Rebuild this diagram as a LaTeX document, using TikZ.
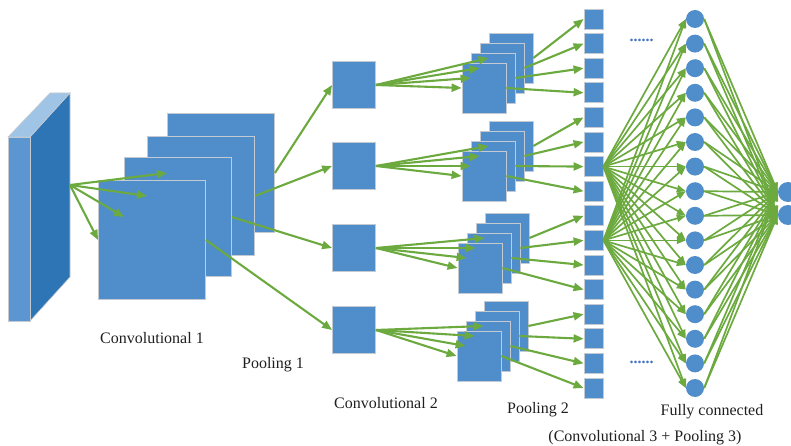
\documentclass[tikz,border=0pt]{standalone}
\usepackage{fontspec}
\setmainfont{Liberation Serif}
\usetikzlibrary{arrows.meta,positioning}
\definecolor{mapblue}{RGB}{80,142,203}
\definecolor{mapedge}{RGB}{196,202,210}
\definecolor{slabfront}{RGB}{92,150,208}
\definecolor{slabside}{RGB}{46,117,182}
\definecolor{slabtop}{RGB}{160,196,230}
\definecolor{linkgreen}{RGB}{108,170,64}
\definecolor{dotblue}{RGB}{68,114,196}

\begin{document}
\begin{tikzpicture}[x=1pt,y=-1pt,>={Triangle[length=10pt,width=8pt]},
                    every node/.style={font=\fontsize{16}{19}\selectfont}]
  \tikzstyle{fmap}=[draw=mapedge,fill=mapblue,line width=0.8pt,inner sep=0pt]
  \tikzstyle{unit}=[circle,fill=mapblue,inner sep=0pt,minimum size=18pt]
  \tikzstyle{link}=[->,draw=linkgreen,line width=2.1pt]
  \tikzstyle{fclink}=[->,draw=linkgreen,line width=1.7pt,>={Triangle[length=9pt,width=7pt]}]
  \tikzstyle{caption}=[text=black!88]

  \useasboundingbox (0,0) rectangle (791,446);

  % input volume
  \filldraw[fill=slabside,draw=mapedge,line width=0.6pt] (30,137) -- (70,93) -- (70,277) -- (30,321) -- cycle;
  \filldraw[fill=slabtop,draw=mapedge,line width=0.6pt] (8,137) -- (30,137) -- (70,93) -- (50,93) -- cycle;
  \filldraw[fill=slabfront,draw=mapedge,line width=0.6pt] (8,137) rectangle (30,321);
  \coordinate (src) at (70,185);

  % convolutional 1
  \node[fmap,minimum width=107pt,minimum height=119pt] (c1d) at (221,173) {};
  \node[fmap,minimum width=107pt,minimum height=119pt] (c1c) at (201,196) {};
  \node[fmap,minimum width=107pt,minimum height=119pt] (c1b) at (178,217) {};
  \node[fmap,minimum width=107pt,minimum height=119pt] (c1a) at (152,240) {};

  % pooling 1
  \node[fmap,minimum width=43pt,minimum height=47pt] (p1) at (354,85) {};
  \node[fmap,minimum width=43pt,minimum height=47pt] (p2) at (354,166) {};
  \node[fmap,minimum width=43pt,minimum height=47pt] (p3) at (354,248) {};
  \node[fmap,minimum width=43pt,minimum height=47pt] (p4) at (354,330) {};

  % convolutional 2
  \foreach \k/\x/\y in {1/484/88,2/484/176,3/480/268,4/479/356}
    \foreach \j in {3,2,1,0}
      \node[fmap,minimum width=44pt,minimum height=50pt] (s\k\j) at (\x+9*\j,\y-10*\j) {};

  % pooling 2 column and fully connected layer
  \foreach \i in {0,...,15} {
    \node[fmap,minimum width=19pt,minimum height=20pt] (q\i) at (593.5,19+24.6*\i) {};
    \node[unit] (f\i) at (695,19+24.6*\i) {};
  }
  \node[unit,minimum size=20pt] (o1) at (788,192) {};
  \node[unit,minimum size=20pt] (o2) at (788,215) {};

  % connections
  \foreach \n in {a,b,c,d}
    \draw[link] (src) -- (c1\n.west);
  \draw[link] (c1d.east) -- (p1.west);
  \draw[link] (c1c.east) -- (p2.west);
  \draw[link] (c1b.east) -- (p3.west);
  \draw[link] (c1a.east) -- (p4.west);
  \foreach \k in {1,...,4}
    \foreach \j in {0,...,3} {
      \pgfmathtruncatemacro\t{4*(\k-1)+3-\j}
      \draw[link] (p\k.east) -- (s\k\j.west);
      \draw[link] (s\k\j.east) -- (q\t.west);
    }
  \foreach \i in {0,...,15} {
    \draw[fclink] (q6.east) -- (f\i.west);
    \draw[fclink] (q9.east) -- (f\i.west);
    \draw[fclink] (f\i.east) -- (o1.west);
    \draw[fclink] (f\i.east) -- (o2.west);
  }

  % labels
  \node[text=dotblue,anchor=base west,font=\fontsize{16}{19}\selectfont\bfseries] (d1) at (626,42) {......};
  \node[text=dotblue,anchor=base west,font=\fontsize{16}{19}\selectfont\bfseries] (d2) at (626,363) {......};
  \node[caption] (l1) at (152,338) {Convolutional 1};
  \node[caption] (l2) at (273,365) {Pooling 1};
  \node[caption] (l3) at (386,403) {Convolutional 2};
  \node[caption] (l4) at (538,410) {Pooling 2};
  \node[caption] (l5) at (712,412) {Fully connected};
  \node[caption] (l6) at (645,438) {(Convolutional 3 + Pooling 3)};
\end{tikzpicture}
\end{document}
